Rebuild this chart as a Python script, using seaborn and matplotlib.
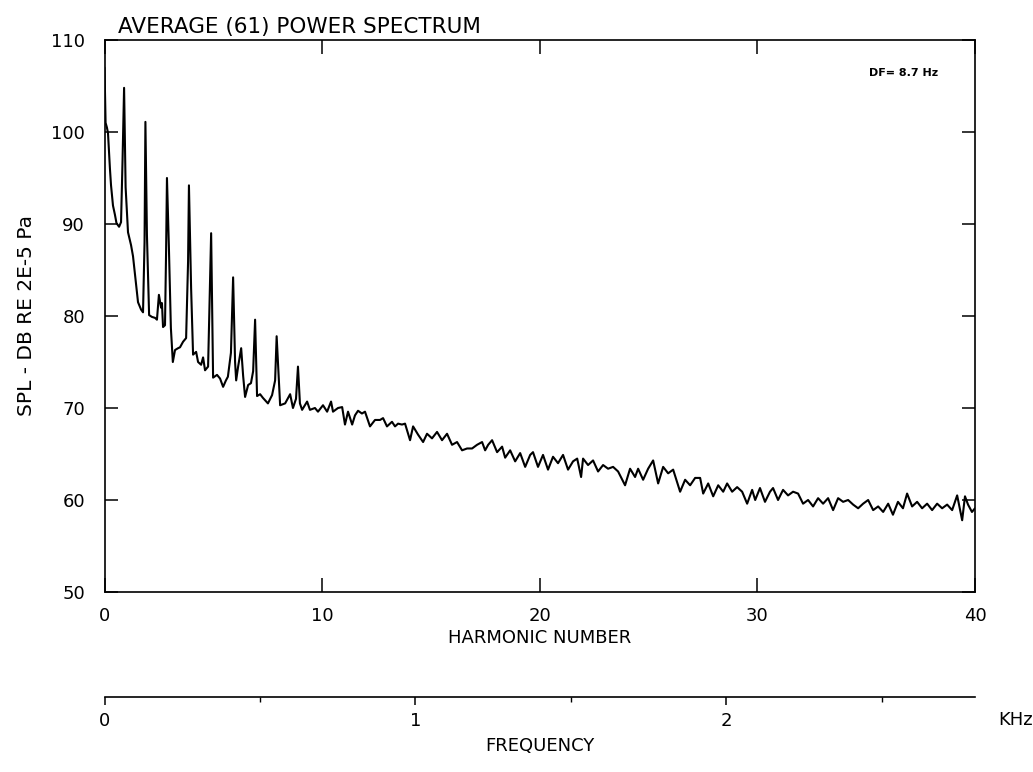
import matplotlib
matplotlib.use("Agg")
import matplotlib.pyplot as plt
import pandas as pd
import seaborn as sns
from matplotlib.ticker import FixedLocator

# ---- data ----
harmonic = [0.00, 0.05, 0.11, 0.16, 0.25, 0.30, 0.39, 0.48, 0.55, 0.67, 0.76, 0.83, 0.90, 0.97,
            1.08, 1.22, 1.31, 1.40, 1.54, 1.68, 1.77, 1.84, 1.88, 1.95, 2.05, 2.18, 2.32, 2.41,
            2.50, 2.60, 2.64, 2.69, 2.78, 2.83, 2.87, 2.96, 3.05, 3.14, 3.24, 3.38, 3.47, 3.61,
            3.75, 3.84, 3.88, 3.98, 4.07, 4.21, 4.30, 4.44, 4.53, 4.62, 4.76, 4.85, 4.90, 4.99,
            5.17, 5.31, 5.45, 5.58, 5.67, 5.81, 5.91, 6.00, 6.05, 6.14, 6.28, 6.37, 6.46, 6.60,
            6.73, 6.83, 6.92, 7.01, 7.15, 7.28, 7.51, 7.70, 7.84, 7.91, 8.07, 8.30, 8.53, 8.66,
            8.80, 8.89, 8.98, 9.08, 9.31, 9.44, 9.67, 9.81, 10.04, 10.23, 10.41,
            10.50, 10.73, 10.92, 11.05, 11.19, 11.38, 11.51, 11.65, 11.83, 11.97, 12.20, 12.43,
            12.66, 12.80, 12.98, 13.21, 13.35, 13.49, 13.67, 13.81, 14.04, 14.18, 14.41, 14.64,
            14.82, 15.05, 15.28, 15.51, 15.74, 15.97, 16.20, 16.43, 16.66, 16.89, 17.12, 17.35,
            17.49, 17.63, 17.81, 18.04, 18.27, 18.41, 18.64, 18.87, 19.10, 19.33, 19.56, 19.69,
            19.92, 20.15, 20.38, 20.61, 20.84, 21.07, 21.30, 21.53, 21.72, 21.90, 21.99, 22.22,
            22.45, 22.68, 22.91, 23.14, 23.37, 23.60, 23.92, 24.15, 24.38, 24.52, 24.75, 24.98,
            25.21, 25.44, 25.67, 25.90, 26.13,
            26.45, 26.68, 26.91, 27.14, 27.37, 27.51, 27.74, 27.97, 28.20, 28.43, 28.61, 28.84,
            29.07, 29.30, 29.53, 29.76, 29.90, 30.12, 30.35, 30.58, 30.72, 30.95, 31.18, 31.41,
            31.64, 31.87, 32.10, 32.33, 32.56, 32.79, 33.02, 33.25, 33.48, 33.71, 33.94, 34.17,
            34.40, 34.63, 34.86, 35.09, 35.32, 35.55, 35.78, 36.01, 36.23, 36.46, 36.69, 36.88,
            37.11, 37.34, 37.57, 37.80, 38.03, 38.26, 38.49, 38.72, 38.95, 39.18, 39.41, 39.54,
            39.68, 39.86, 40.00]

spl_db = [107.0, 101.0, 100.5, 99.9, 96.0, 94.2, 92.0, 91.0, 90.1, 89.7, 90.2, 97.0, 104.8, 94.0,
          89.1, 87.7, 86.5, 84.5, 81.5, 80.7, 80.4, 88.0, 101.1, 88.8, 80.1, 79.9, 79.8, 79.6,
          82.3, 80.9, 81.4, 78.8, 79.0, 87.0, 95.0, 87.4, 78.7, 75.0, 76.3, 76.5, 76.6, 77.2,
          77.6, 85.9, 94.2, 83.0, 75.8, 76.1, 75.0, 74.7, 75.5, 74.1, 74.5, 83.7, 89.0, 73.3,
          73.6, 73.2, 72.3, 73.0, 73.4, 76.0, 84.2, 75.0, 73.0, 74.5, 76.5, 73.5, 71.2, 72.5,
          72.7, 74.0, 79.6, 71.3, 71.5, 71.1, 70.5, 71.4, 73.0, 77.8, 70.3, 70.5, 71.5, 70.0,
          71.0, 74.5, 70.5, 69.8, 70.7, 69.8, 70.0, 69.6, 70.3, 69.6, 70.7,
          69.6, 70.0, 70.1, 68.2, 69.6, 68.2, 69.2, 69.7, 69.4, 69.6, 68.0, 68.7,
          68.7, 68.9, 68.0, 68.5, 68.0, 68.3, 68.2, 68.3, 66.5, 68.0, 67.1, 66.3,
          67.2, 66.7, 67.4, 66.5, 67.2, 66.0, 66.3, 65.4, 65.6, 65.6, 66.0, 66.3,
          65.4, 66.0, 66.5, 65.2, 65.8, 64.6, 65.4, 64.2, 65.1, 63.6, 64.9, 65.2,
          63.6, 64.9, 63.3, 64.7, 64.0, 64.9, 63.3, 64.2, 64.5, 62.5, 64.5, 63.8,
          64.3, 63.1, 63.8, 63.4, 63.6, 63.1, 61.6, 63.4, 62.5, 63.4, 62.2, 63.4,
          64.3, 61.8, 63.6, 62.9, 63.3,
          60.9, 62.2, 61.6, 62.4, 62.4, 60.7, 61.8, 60.4, 61.6, 60.9, 61.8, 60.9,
          61.4, 60.9, 59.6, 61.1, 60.0, 61.3, 59.8, 60.9, 61.3, 60.0, 61.1, 60.5,
          60.9, 60.7, 59.6, 60.0, 59.3, 60.2, 59.6, 60.2, 58.9, 60.2, 59.8, 60.0,
          59.5, 59.1, 59.6, 60.0, 58.9, 59.3, 58.7, 59.6, 58.4, 59.8, 59.1, 60.7,
          59.3, 59.8, 59.1, 59.6, 58.9, 59.6, 59.1, 59.5, 58.9, 60.5, 57.8, 60.4,
          59.5, 58.7, 59.1]

DF_HZ = 8.7          # frequency resolution shown in the plot
F0_HZ = 70.0         # fundamental frequency (harmonic 1)
n_averages = 61

x_ticks = [0, 10, 20, 30, 40]
y_ticks = [50, 60, 70, 80, 90, 100, 110]
khz_ticks = [0, 1, 2]
khz_minor = [0.5, 1.5, 2.5]

title_text = f"AVERAGE ({n_averages}) POWER SPECTRUM"
df_text = f"DF= {DF_HZ} Hz"

# ---- plotting ----
sns.set_theme(style="ticks")
plt.rcParams['font.family'] = ['DejaVu Sans']
plt.rcParams['axes.edgecolor'] = 'black'
plt.rcParams['xtick.color'] = 'black'
plt.rcParams['ytick.color'] = 'black'
plt.rcParams['text.color'] = 'black'
plt.rcParams['axes.labelcolor'] = 'black'

W, H = 1033, 772
fig = plt.figure(figsize=(W / 100, H / 100), dpi=100)
ax = fig.add_axes([104.5 / W, 1 - 592 / H, 870.5 / W, 552 / H])

data = pd.DataFrame({"harmonic": harmonic, "spl": spl_db})
sns.lineplot(data=data, x="harmonic", y="spl", sort=False, estimator=None,
             color="black", linewidth=1.5, ax=ax)

ax.set_xlim(0, 40)
ax.set_ylim(50, 110)
ax.set_xticks(x_ticks)
ax.set_yticks(y_ticks)
ax.set_xticklabels([str(t) for t in x_ticks])
ax.set_yticklabels([str(t) for t in y_ticks])
for sp in ax.spines.values():
    sp.set_visible(True)
    sp.set_linewidth(1.2)
    sp.set_color("black")

ax.tick_params(axis="x", which="major", direction="in", length=10, width=1.1,
               top=True, bottom=True, labelsize=13, pad=11)
ax.tick_params(axis="y", which="major", direction="in", length=9.5, width=1.1,
               left=True, right=True, labelsize=13, pad=14)

ax.set_xlabel("HARMONIC NUMBER", fontsize=13, labelpad=3)
ax.set_ylabel("SPL - DB RE 2E-5 Pa", fontsize=14.5, labelpad=11)

ax.text(0.9575, 0.94, df_text, transform=ax.transAxes, ha="right", va="center",
        fontsize=8, fontweight="bold")
fig.text(118 / W, 1 - 26.5 / H, title_text, ha="left", va="center", fontsize=15.5)

# frequency axis below, tied to the harmonic axis through F0
sec = ax.secondary_xaxis(-(697 - 592) / 552,
                         functions=(lambda h: h * F0_HZ / 1000.0,
                                    lambda f: f * 1000.0 / F0_HZ))
sec.set_xticks(khz_ticks)
sec.set_xticklabels([str(t) for t in khz_ticks])
sec.xaxis.set_minor_locator(FixedLocator(khz_minor))
sec.tick_params(axis="x", which="major", direction="out", length=6, width=1.1,
                labelsize=13, pad=5)
sec.tick_params(axis="x", which="minor", direction="out", length=3.5, width=1.0)
sec.spines["bottom"].set_linewidth(1.2)
sec.set_xlabel("FREQUENCY", fontsize=13, labelpad=5)
fig.text(1016 / W, 1 - 720 / H, "KHz", ha="center", va="center", fontsize=13)

fig.savefig("out.png", dpi=100, facecolor="white")
